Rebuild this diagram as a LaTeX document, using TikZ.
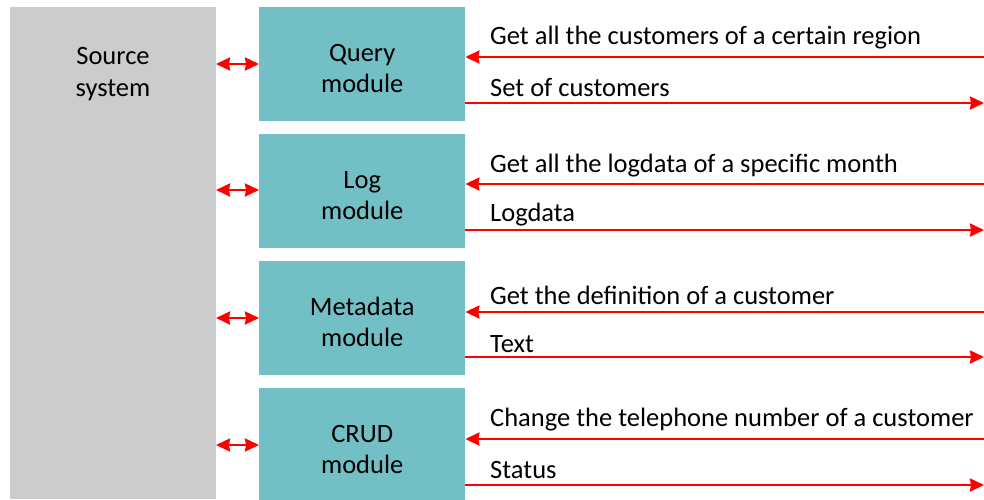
\documentclass[tikz,border=0pt]{standalone}
\usepackage{fontspec}
\setmainfont{Carlito}
\usetikzlibrary{arrows.meta}
\definecolor{srcgrey}{HTML}{CCCCCC}
\definecolor{modteal}{HTML}{72BFC5}
\begin{document}
\begin{tikzpicture}[x=1pt,y=-1pt,
  srcbox/.style={fill=srcgrey, draw=none, minimum width=206pt, minimum height=492pt, anchor=north west, inner sep=0pt},
  modbox/.style={fill=modteal, draw=none, minimum width=206pt, minimum height=114pt, anchor=north west, inner sep=0pt},
  boxtxt/.style={align=center, inner sep=0pt, yshift=-4pt, font=\fontsize{26.5}{31}\selectfont},
  lbl/.style={anchor=west, inner sep=0pt, font=\fontsize{26.5}{30}\selectfont},
  redarr/.style={draw=red, line width=2.5pt, -{Stealth[length=14pt,width=13pt,inset=1pt]}},
  dblarr/.style={draw=red, line width=2.5pt, {Stealth[length=14pt,width=13pt,inset=1pt]}-{Stealth[length=14pt,width=13pt,inset=1pt]}}
]
\useasboundingbox (0,0) rectangle (984,499);
\begin{scope}
\clip (0,0) rectangle (984,499);
\node[srcbox] (src) at (10,7) {};
\node[modbox, label={[boxtxt]center:Query\\module}] (q) at (259,7) {};
\node[modbox, label={[boxtxt]center:Log\\module}] (l) at (259,134) {};
\node[modbox, label={[boxtxt]center:Metadata\\module}] (m) at (259,261) {};
\node[modbox, label={[boxtxt]center:CRUD\\module}] (c) at (259,388) {};
\end{scope}
\node[align=center, font=\fontsize{26.5}{32}\selectfont] (srct) at (113,74) {Source\\system};

% double arrows
\coordinate (sq) at (216,64);
\coordinate (sl) at (216,190);
\coordinate (sm) at (216,318);
\coordinate (sc) at (216,445);
\draw[dblarr] (sq) -- (sq -| q.west);
\draw[dblarr] (sl) -- (sl -| l.west);
\draw[dblarr] (sm) -- (sm -| m.west);
\draw[dblarr] (sc) -- (sc -| c.west);

% incoming requests
\coordinate (iq) at (984,57);
\coordinate (il) at (984,184);
\coordinate (im) at (984,312);
\coordinate (ic) at (984,439);
\draw[redarr] (iq) -- (iq -| q.east);
\draw[redarr] (il) -- (il -| l.east);
\draw[redarr] (im) -- (im -| m.east);
\draw[redarr] (ic) -- (ic -| c.east);

% outgoing responses
\coordinate (oq) at (984,103);
\coordinate (ol) at (984,230);
\coordinate (om) at (984,357);
\coordinate (oc) at (984,485);
\draw[redarr] (oq -| q.east) -- (oq);
\draw[redarr] (ol -| l.east) -- (ol);
\draw[redarr] (om -| m.east) -- (om);
\draw[redarr] (oc -| c.east) -- (oc);

% labels
\node[lbl] (t1) at (490,38) {Get all the customers of a certain region};
\node[lbl] (t2) at (490,88) {Set of customers};
\node[lbl] (t3) at (490,166) {Get all the logdata of a specific month};
\node[lbl] (t4) at (490,215) {Logdata};
\node[lbl] (t5) at (490,295) {Get the definition of a customer};
\node[lbl] (t6) at (490,344) {Text};
\node[lbl] (t7) at (490,420) {Change the telephone number of a customer};
\node[lbl] (t8) at (490,470) {Status};
\end{tikzpicture}
\end{document}
